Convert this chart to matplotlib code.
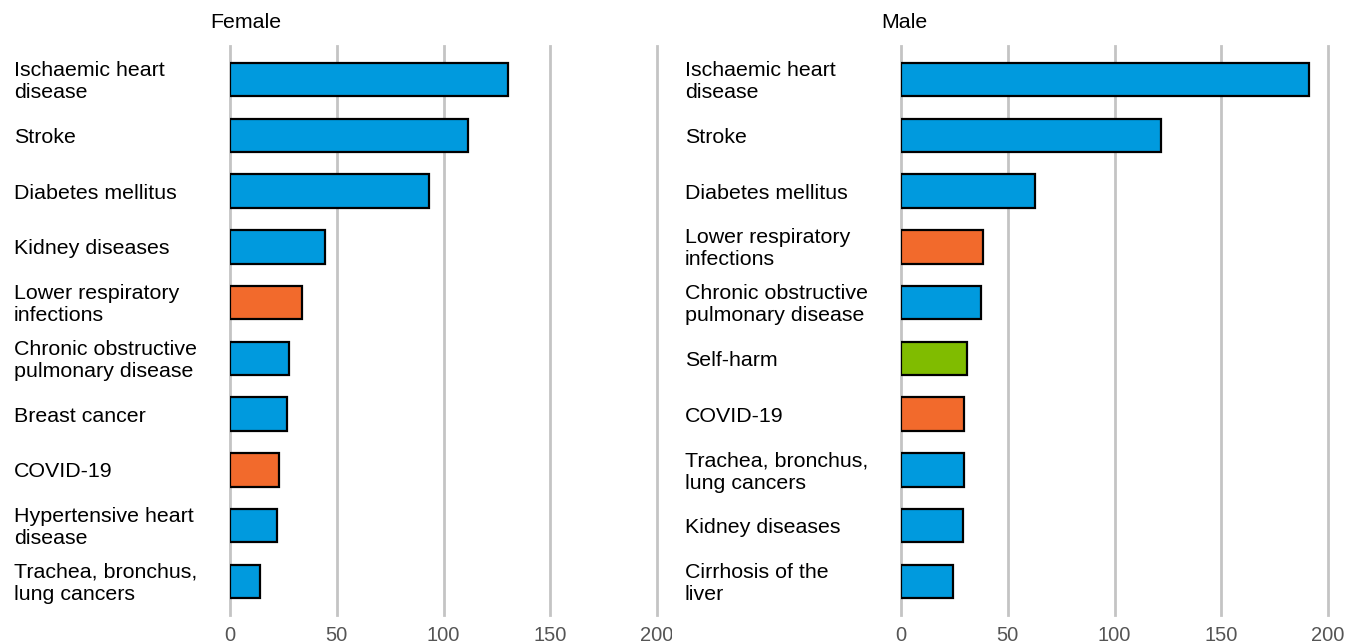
import matplotlib.pyplot as plt
from matplotlib import transforms
from matplotlib.patches import Rectangle

plt.rcParams['font.family'] = ['Liberation Sans', 'DejaVu Sans']

# data
female_causes = ['Ischaemic heart\ndisease', 'Stroke', 'Diabetes mellitus', 'Kidney diseases',
                 'Lower respiratory\ninfections', 'Chronic obstructive\npulmonary disease',
                 'Breast cancer', 'COVID-19', 'Hypertensive heart\ndisease',
                 'Trachea, bronchus,\nlung cancers']
female_values = [130, 111.5, 93.3, 44.5, 33.8, 27.7, 26.7, 23, 22, 14]
female_groups = ['ncd', 'ncd', 'ncd', 'ncd', 'comm', 'ncd', 'ncd', 'comm', 'ncd', 'ncd']

male_causes = ['Ischaemic heart\ndisease', 'Stroke', 'Diabetes mellitus',
               'Lower respiratory\ninfections', 'Chronic obstructive\npulmonary disease',
               'Self-harm', 'COVID-19', 'Trachea, bronchus,\nlung cancers',
               'Kidney diseases', 'Cirrhosis of the\nliver']
male_values = [191, 121.8, 62.8, 38.4, 37.5, 30.9, 29.6, 29.5, 29, 24.4]
male_groups = ['ncd', 'ncd', 'ncd', 'comm', 'ncd', 'inj', 'comm', 'ncd', 'ncd', 'ncd']

xticks = [0, 50, 100, 150, 200]
colors = {'ncd': '#009ADE', 'comm': '#F26A2C', 'inj': '#80BC00'}

W, H = 1348, 644
fig = plt.figure(figsize=(W / 100, H / 100), dpi=100)

panels = [
    ('Female', female_causes, female_values, female_groups, 230, 14, 210),
    ('Male', male_causes, male_values, male_groups, 901, 685, 881),
]

for title, causes, values, groups, x0, label_x, title_x in panels:
    ax = fig.add_axes([x0 / W, 1 - 615 / H, 427 / W, (615 - 46) / H])
    ypos = list(range(len(causes)))
    for t in xticks:
        ax.axvline(t, color='#c4c4c4', lw=2, zorder=0, clip_on=False)
    ax.barh(ypos, values, height=0.6, color=[colors[g] for g in groups],
            edgecolor='black', linewidth=1.6, zorder=2)
    ax.set_xlim(0, 200)
    ax.set_ylim(len(causes) - 0.4, -0.6)
    ax.set_yticks([])
    ax.set_xticks(xticks)
    ax.set_xticklabels([str(t) for t in xticks], fontsize=14.5, color='#555555')
    ax.tick_params(axis='x', length=0, pad=8)
    for s in ax.spines.values():
        s.set_visible(False)
    trans = transforms.blended_transform_factory(fig.transFigure, ax.transData)
    offset = transforms.ScaledTranslation(0, -2 / 100, fig.dpi_scale_trans)
    for y, c in zip(ypos, causes):
        fig.text(label_x / W, y, c, transform=trans + offset, ha='left', va='center',
                 fontsize=15.4, color='black', linespacing=1.22)
    fig.text(title_x / W, 1 - 22 / H, title, ha='left', va='center', fontsize=15.4)

# the left panel's "200" is cut off in the original
fig.add_artist(Rectangle((672 / W, 0), 20 / W, 22 / H, transform=fig.transFigure,
                         facecolor='white', edgecolor='none', zorder=10))

fig.savefig('out.png', dpi=100)
